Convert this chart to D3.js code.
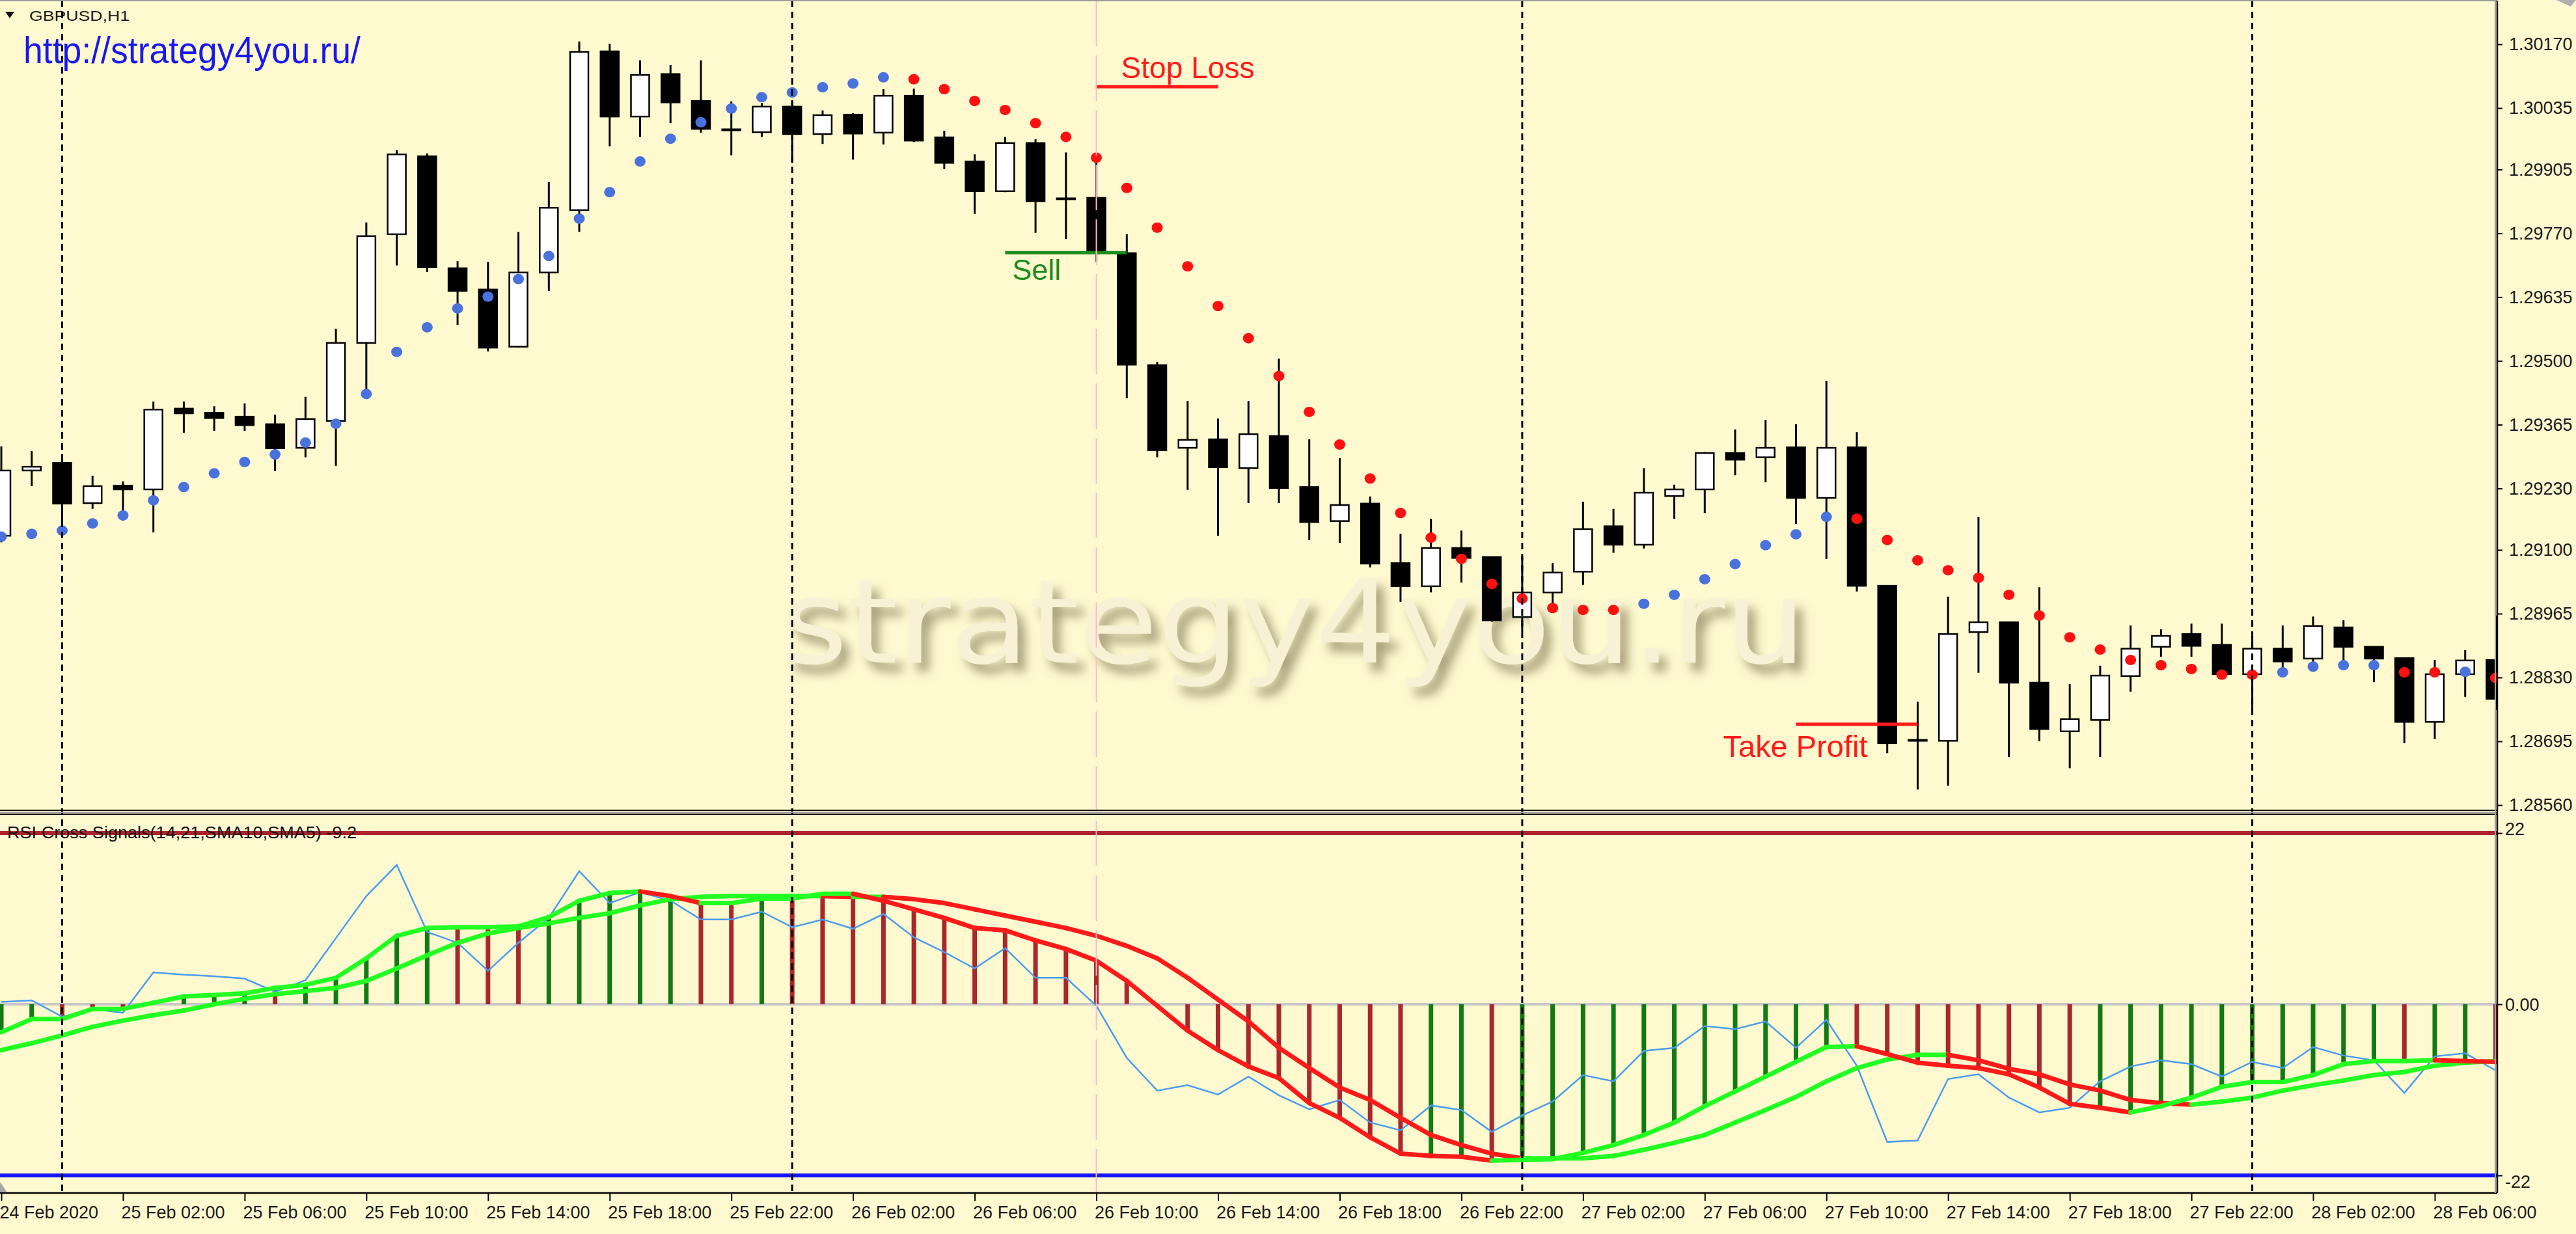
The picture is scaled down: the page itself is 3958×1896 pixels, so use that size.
<!DOCTYPE html>
<html>
<head>
<meta charset="utf-8">
<script src="https://cdn.jsdelivr.net/npm/d3@7"></script>
<style>
  body { margin: 0; background: #fff9d0; }
  svg { display: block; }
</style>
</head>
<body>
<div id="chart"></div>
<script>
// GBPUSD H1 with parabolic SAR and "RSI Cross Signals" sub-window
//= ================================

// Bar labels on the time axis (every 4th hourly bar)
var timeLabels = ["24 Feb 2020", "25 Feb 02:00", "25 Feb 06:00", "25 Feb 10:00", "25 Feb 14:00",
  "25 Feb 18:00", "25 Feb 22:00", "26 Feb 02:00", "26 Feb 06:00", "26 Feb 10:00", "26 Feb 14:00",
  "26 Feb 18:00", "26 Feb 22:00", "27 Feb 02:00", "27 Feb 06:00", "27 Feb 10:00", "27 Feb 14:00",
  "27 Feb 18:00", "27 Feb 22:00", "28 Feb 02:00", "28 Feb 06:00"];

var priceTicks = [1.30170, 1.30035, 1.29905, 1.29770, 1.29635, 1.29500, 1.29365,
  1.29230, 1.29100, 1.28965, 1.28830, 1.28695, 1.28560];
var indTicks = [22, 0, -22];
var indTickLabels = ["22", "0.00", "-22"];

// OHLC, hourly bars from 24 Feb 22:00
var open = [1.29130, 1.29268, 1.29284, 1.29199, 1.29236, 1.29228, 1.29399, 1.29390, 1.29382, 1.29366,
  1.29316, 1.29373, 1.29538, 1.29768, 1.29933, 1.29696, 1.29651, 1.29530, 1.29687, 1.29819,
  1.30155, 1.30017, 1.30107, 1.30050, 1.29990, 1.29984, 1.30038, 1.29980, 1.30021, 1.29983,
  1.30061, 1.29973, 1.29922, 1.29859, 1.29961, 1.29844, 1.29845, 1.29728, 1.29491, 1.29316,
  1.29334, 1.29273, 1.29341, 1.29233, 1.29161, 1.29198, 1.29072, 1.29023, 1.29104, 1.29085,
  1.28958, 1.29010, 1.29054, 1.29150, 1.29111, 1.29214, 1.29228, 1.29305, 1.29296, 1.29317,
  1.29210, 1.29317, 1.29024, 1.28698, 1.28696, 1.28926, 1.28947, 1.28819, 1.28716, 1.28740,
  1.28833, 1.28895, 1.28922, 1.28899, 1.28837, 1.28891, 1.28870, 1.28936, 1.28895, 1.28871,
  1.28736, 1.28837, 1.28867];
var high = [1.29319, 1.29309, 1.29302, 1.29257, 1.29245, 1.29414, 1.29414, 1.29404, 1.29410, 1.29386,
  1.29424, 1.29568, 1.29793, 1.29946, 1.29939, 1.29711, 1.29709, 1.29773, 1.29878, 1.30176,
  1.30171, 1.30136, 1.30126, 1.30136, 1.30049, 1.30046, 1.30049, 1.30030, 1.30024, 1.30075,
  1.30076, 1.29987, 1.29937, 1.29974, 1.29969, 1.29941, 1.29919, 1.29768, 1.29498, 1.29415,
  1.29378, 1.29415, 1.29505, 1.29334, 1.29294, 1.29213, 1.29134, 1.29166, 1.29141, 1.29085,
  1.29086, 1.29072, 1.29202, 1.29187, 1.29273, 1.29238, 1.29307, 1.29355, 1.29375, 1.29366,
  1.29458, 1.29349, 1.29024, 1.28779, 1.29001, 1.29170, 1.28948, 1.29021, 1.28816, 1.28855,
  1.28940, 1.28932, 1.28944, 1.28944, 1.28918, 1.28940, 1.28959, 1.28951, 1.28895, 1.28871,
  1.28867, 1.28888, 1.28961];
var low = [1.29116, 1.29235, 1.29134, 1.29187, 1.29162, 1.29137, 1.29348, 1.29352, 1.29352, 1.29267,
  1.29296, 1.29278, 1.29422, 1.29702, 1.29688, 1.29576, 1.29520, 1.29528, 1.29648, 1.29773,
  1.29954, 1.29974, 1.30003, 1.29983, 1.29935, 1.29974, 1.29919, 1.29959, 1.29926, 1.29958,
  1.29963, 1.29906, 1.29811, 1.29857, 1.29771, 1.29758, 1.29710, 1.29421, 1.29296, 1.29227,
  1.29130, 1.29199, 1.29199, 1.29121, 1.29115, 1.29063, 1.28990, 1.29010, 1.29031, 1.28948,
  1.28928, 1.28981, 1.29026, 1.29094, 1.29103, 1.29166, 1.29178, 1.29258, 1.29243, 1.29155,
  1.29081, 1.29012, 1.28670, 1.28593, 1.28601, 1.28840, 1.28662, 1.28695, 1.28638, 1.28662,
  1.28800, 1.28874, 1.28874, 1.28836, 1.28761, 1.28848, 1.28848, 1.28848, 1.28820, 1.28691,
  1.28700, 1.28789, 1.28761];
var close = [1.29268, 1.29276, 1.29198, 1.29235, 1.29228, 1.29397, 1.29389, 1.29379, 1.29364, 1.29315,
  1.29377, 1.29538, 1.29764, 1.29937, 1.29698, 1.29648, 1.29528, 1.29687, 1.29824, 1.30154,
  1.30017, 1.30105, 1.30047, 1.29991, 1.29988, 1.30038, 1.29980, 1.30020, 1.29981, 1.30061,
  1.29966, 1.29919, 1.29859, 1.29961, 1.29838, 1.29842, 1.29732, 1.29492, 1.29311, 1.29333,
  1.29275, 1.29345, 1.29231, 1.29159, 1.29195, 1.29071, 1.29023, 1.29104, 1.29083, 1.28951,
  1.29010, 1.29052, 1.29144, 1.29111, 1.29221, 1.29228, 1.29305, 1.29291, 1.29316, 1.29210,
  1.29316, 1.29024, 1.28691, 1.28696, 1.28922, 1.28947, 1.28819, 1.28721, 1.28742, 1.28834,
  1.28891, 1.28918, 1.28897, 1.28837, 1.28891, 1.28864, 1.28939, 1.28895, 1.28870, 1.28736,
  1.28837, 1.28866, 1.28785];

// Parabolic SAR: value and side (1 = below price / up, -1 = above price / down)
var sar = [1.29128, 1.29134, 1.29141, 1.29156, 1.29173, 1.29205, 1.29233, 1.29262, 1.29286, 1.29302,
  1.29327, 1.29367, 1.29430, 1.29519, 1.29571, 1.29611, 1.29636, 1.29673, 1.29722, 1.29801,
  1.29857, 1.29922, 1.29970, 1.30005, 1.30034, 1.30058, 1.30068, 1.30079, 1.30087, 1.30100,
  1.30096, 1.30075, 1.30050, 1.30031, 1.30003, 1.29974, 1.29930, 1.29866, 1.29782, 1.29700,
  1.29616, 1.29548, 1.29468, 1.29392, 1.29323, 1.29251, 1.29178, 1.29126, 1.29081, 1.29028,
  1.28997, 1.28977, 1.28973, 1.28973, 1.28986, 1.29005, 1.29038, 1.29070, 1.29110, 1.29133,
  1.29170, 1.29166, 1.29121, 1.29078, 1.29057, 1.29041, 1.29005, 1.28961, 1.28915, 1.28889,
  1.28867, 1.28856, 1.28848, 1.28836, 1.28836, 1.28841, 1.28853, 1.28856, 1.28856, 1.28841,
  1.28841, 1.28842, 1.28829];
var sarDir = [1, 1, 1, 1, 1, 1, 1, 1, 1, 1, 1, 1, 1, 1, 1, 1, 1, 1, 1, 1, 1, 1, 1, 1, 1, 1, 1, 1, 1, 1,
  -1, -1, -1, -1, -1, -1, -1, -1, -1, -1, -1, -1, -1, -1, -1, -1, -1, -1, -1, -1, -1, -1, -1, -1,
  1, 1, 1, 1, 1, 1, 1,
  -1, -1, -1, -1, -1, -1, -1, -1, -1, -1, -1, -1, -1, -1,
  1, 1, 1, 1, -1, -1, 1, -1];

// RSI Cross Signals sub-window
var rsiLine = [0.3, 0.5, -1.6, -0.6, -1.1, 4.1, 3.8, 3.6, 3.3, 1.6,
  3.1, 8.5, 13.9, 17.9, 9.3, 7.9, 4.3, 7.9, 11.1, 17.1,
  13.0, 14.4, 13.3, 10.9, 10.9, 11.9, 9.9, 10.9, 9.7, 11.6,
  8.6, 6.7, 4.6, 7.2, 3.4, 3.4, -0.2, -6.9, -11.1, -10.4,
  -11.6, -9.3, -11.7, -13.5, -12.3, -15.2, -16.2, -13.0, -13.6, -16.4,
  -14.3, -12.5, -9.1, -9.9, -6.0, -5.6, -2.8, -3.2, -2.2, -5.6,
  -2.0, -7.9, -17.7, -17.5, -9.6, -9.0, -12.0, -13.9, -13.3, -9.9,
  -8.0, -7.2, -7.7, -9.3, -7.4, -8.2, -5.5, -6.6, -7.2, -11.4,
  -6.7, -6.3, -8.5];
var fastMA = [-3.6, -1.9, -1.9, -0.6, -0.6, 0.2, 1.0, 1.2, 1.4, 2.1,
  2.5, 3.4, 5.9, 8.8, 9.8, 9.9, 9.9, 10.0, 11.2, 13.3,
  14.3, 14.5, 13.9, 13.0, 13.0, 13.6, 13.6, 14.2, 14.2, 13.3,
  12.2, 11.1, 9.8, 9.5, 8.2, 7.1, 5.6, 3.0, -0.2, -3.4,
  -5.9, -8.0, -9.5, -12.7, -14.6, -17.1, -19.2, -19.5, -19.6, -20.1,
  -20.0, -19.9, -19.1, -18.1, -16.8, -15.2, -13.1, -11.2, -9.3, -7.4,
  -5.5, -5.4, -6.4, -7.5, -7.9, -8.2, -9.0, -10.7, -12.8, -13.3,
  -13.9, -13.1, -12.0, -10.6, -10.0, -10.0, -9.1, -7.7, -7.3, -7.3,
  -7.2, -7.3, -7.4];
var slowMA = [-5.9, -5.0, -4.0, -2.9, -2.1, -1.4, -0.8, 0.0, 0.7, 1.3,
  1.7, 2.1, 3.0, 4.6, 6.3, 7.9, 9.1, 9.8, 10.4, 11.1,
  11.7, 12.7, 13.5, 13.8, 13.9, 13.9, 13.9, 13.9, 13.8, 13.8,
  13.5, 13.0, 12.2, 11.4, 10.6, 9.8, 8.8, 7.5, 5.9, 3.4,
  0.6, -2.2, -5.6, -8.2, -10.7, -12.3, -14.6, -16.8, -18.1, -19.2,
  -19.8, -19.8, -19.8, -19.5, -18.7, -17.8, -16.8, -15.2, -13.6, -11.9,
  -9.9, -8.2, -7.1, -6.5, -6.5, -7.2, -8.3, -9.0, -10.3, -11.1,
  -12.3, -12.7, -12.9, -12.5, -12.0, -11.1, -10.4, -9.8, -9.1, -8.7,
  -7.9, -7.5, -7.3];
// histogram signal: 1 = green, -1 = brown
var histDir = [1, 1, -1, -1, -1, 1, 1, 1, 1, -1,
  1, 1, 1, 1, 1, -1, -1, -1, 1, 1,
  1, 1, 1, -1, -1, 1, -1, -1, -1, -1,
  -1, -1, -1, -1, -1, -1, -1, -1, -1, -1,
  -1, -1, -1, -1, -1, -1, -1, 1, 1, -1,
  1, 1, 1, 1, 1, 1, 1, 1, 1, 1,
  1, -1, -1, -1, -1, -1, -1, -1, -1, 1,
  1, 1, 1, 1, 1, 1, 1, 1, 1, -1,
  1, 1, -1];
var levelUp = 22, levelDown = -22;

// Trade annotations (price level drawn between two bars)
var tradeNames = ["Stop Loss", "Sell", "Take Profit"];
var tradePrices = [1.30080, 1.29729, 1.28731];
var tradeFrom = [36, 33, 59];
var tradeTo = [40, 37, 63];
var signalTime = "26 Feb 10:00";

// Step 1: chart geometry
//= ================================
var svgWidth = 3958;
var svgHeight = 1896;
var plotRight = 3837;
var mainTop = 1, mainBottom = 1245;
var indTop = 1251, indBottom = 1833;
var bg = "#fff9d0";
var fontFam = "'Liberation Sans', Arial, sans-serif";

var barTimes = d3.range(open.length).map(i => d3.utcHour.offset(new Date(Date.UTC(2020, 1, 24, 22)), i));
var fmtBar = d3.utcFormat("%d %b %H:%M");

// Step 2: scales
//= ================================
var x = d3.scaleLinear().domain([0, 80]).range([2, 3741]);
var yPrice = d3.scaleLinear().domain([1.28560, 1.30170]).range([1237, 68]);
var yInd = d3.scaleLinear().domain([-22, 22]).range([1806, 1280]);

var svg = d3.select("#chart")
  .append("svg")
  .attr("width", svgWidth)
  .attr("height", svgHeight)
  .style("font-family", fontFam);

svg.append("rect").attr("width", svgWidth).attr("height", svgHeight).attr("fill", bg);

var defs = svg.append("defs");
defs.append("clipPath").attr("id", "clipMain").append("rect")
  .attr("x", 0).attr("y", mainTop).attr("width", plotRight).attr("height", mainBottom - mainTop);
defs.append("clipPath").attr("id", "clipInd").append("rect")
  .attr("x", 0).attr("y", indTop).attr("width", plotRight).attr("height", indBottom - indTop);
var wm = defs.append("filter").attr("id", "wmShadow")
  .attr("x", "-5%").attr("y", "-30%").attr("width", "115%").attr("height", "180%");
wm.append("feDropShadow").attr("dx", 12).attr("dy", 14).attr("stdDeviation", 8)
  .attr("flood-color", "#6f6640").attr("flood-opacity", 0.6);

var mainG = svg.append("g").attr("clip-path", "url(#clipMain)");
var indG = svg.append("g").attr("clip-path", "url(#clipInd)");

// Step 3: watermark and separators
//= ================================
mainG.append("text")
  .attr("x", 1200).attr("y", 1018)
  .attr("font-family", "'DejaVu Sans', Verdana, sans-serif")
  .attr("font-size", 178)
  .attr("textLength", 1575).attr("lengthAdjust", "spacingAndGlyphs")
  .attr("fill", "#f7f1d6")
  .attr("filter", "url(#wmShadow)")
  .text("strategy4you.ru");

var dayIdx = barTimes.map((t, i) => t.getUTCHours() === 0 ? i : -1).filter(i => i >= 0);
var sigIdx = barTimes.findIndex(t => fmtBar(t) === signalTime);

svg.append("line")
  .attr("x1", x(sigIdx)).attr("x2", x(sigIdx))
  .attr("y1", mainTop).attr("y2", indBottom)
  .attr("stroke", "#ffb8c6").attr("stroke-width", 2)
  .attr("stroke-dasharray", "70,14");

var sepG = svg.append("g");
sepG.selectAll("line").data(dayIdx).enter().append("line")
  .attr("x1", d => x(d)).attr("x2", d => x(d))
  .attr("y1", mainTop).attr("y2", indBottom)
  .attr("stroke", "#000").attr("stroke-width", 3)
  .attr("stroke-dasharray", "10,7");

// Step 4: candles + SAR
//= ================================
var bars = d3.range(open.length);
var bodyW = 28;

mainG.selectAll(".wick").data(bars).enter().append("line")
  .attr("class", "wick")
  .attr("x1", i => x(i)).attr("x2", i => x(i))
  .attr("y1", i => yPrice(high[i])).attr("y2", i => yPrice(low[i]))
  .attr("stroke", "#000").attr("stroke-width", 3);

mainG.selectAll(".body").data(bars).enter().append("rect")
  .attr("class", "body")
  .attr("x", i => x(i) - bodyW / 2)
  .attr("y", i => yPrice(Math.max(open[i], close[i])))
  .attr("width", bodyW)
  .attr("height", i => Math.max(1, Math.abs(yPrice(open[i]) - yPrice(close[i]))))
  .attr("fill", i => close[i] >= open[i] ? "#fff" : "#000")
  .attr("stroke", "#000").attr("stroke-width", 2.5);

mainG.selectAll(".sar").data(bars).enter().append("ellipse")
  .attr("class", "sar")
  .attr("cx", i => x(i)).attr("cy", i => yPrice(sar[i]))
  .attr("rx", 8.5).attr("ry", 8)
  .attr("fill", i => sarDir[i] > 0 ? "#4a72dc" : "#ff1010");

// Step 5: trade annotations
//= ================================
tradeNames.forEach(function(name, k) {
  var col = name === "Sell" ? "#1c8c1c" : "#ff1a1a";
  var yv = yPrice(tradePrices[k]);
  mainG.append("line")
    .attr("x1", x(tradeFrom[k])).attr("x2", x(tradeTo[k]))
    .attr("y1", yv).attr("y2", yv)
    .attr("stroke", col).attr("stroke-width", 5);
  var t = mainG.append("text").attr("fill", col).attr("font-size", 47).text(name);
  if (name === "Stop Loss") {
    t.attr("x", x(tradeFrom[k]) + 38).attr("y", yv - 13).attr("textLength", 205);
  } else if (name === "Sell") {
    t.attr("x", x(tradeFrom[k]) + 11).attr("y", yv + 42).attr("textLength", 75).attr("font-size", 45);
  } else {
    t.attr("x", x(tradeFrom[k]) - 112).attr("y", yv + 50).attr("textLength", 222);
  }
  t.attr("lengthAdjust", "spacingAndGlyphs");
});

// Step 6: indicator window
//= ================================
indG.append("line").attr("x1", 0).attr("x2", plotRight)
  .attr("y1", yInd(0)).attr("y2", yInd(0))
  .attr("stroke", "#c8c8c8").attr("stroke-width", 4);
indG.append("line").attr("x1", 0).attr("x2", plotRight)
  .attr("y1", yInd(levelUp)).attr("y2", yInd(levelUp))
  .attr("stroke", "#b0222e").attr("stroke-width", 6);
indG.append("line").attr("x1", 0).attr("x2", plotRight)
  .attr("y1", yInd(levelDown)).attr("y2", yInd(levelDown))
  .attr("stroke", "#1414ff").attr("stroke-width", 6);

indG.selectAll(".hist").data(bars).enter().append("line")
  .attr("class", "hist")
  .attr("x1", i => x(i)).attr("x2", i => x(i))
  .attr("y1", yInd(0)).attr("y2", i => yInd(fastMA[i]))
  .attr("stroke", i => histDir[i] > 0 ? "#137a13" : "#a8282c")
  .attr("stroke-width", 7);

var rsiPath = d3.line().x((d, i) => x(i)).y(d => yInd(d));
indG.append("path").datum(rsiLine)
  .attr("d", rsiPath)
  .attr("fill", "none").attr("stroke", "#4a9cf0").attr("stroke-width", 2.5);

function drawMA(vals) {
  var segs = d3.pairs(vals.map((v, i) => [i, v]));
  indG.append("g").selectAll("line").data(segs).enter().append("line")
    .attr("x1", d => x(d[0][0])).attr("y1", d => yInd(d[0][1]))
    .attr("x2", d => x(d[1][0])).attr("y2", d => yInd(d[1][1]))
    .attr("stroke", d => d[1][1] >= d[0][1] ? "#22ff22" : "#ff1a1a")
    .attr("stroke-width", 7).attr("stroke-linecap", "round");
}
drawMA(slowMA);
drawMA(fastMA);

svg.append("text")
  .attr("x", 11).attr("y", 1288)
  .attr("font-size", 26).attr("fill", "#111")
  .attr("textLength", 537).attr("lengthAdjust", "spacingAndGlyphs")
  .text("RSI Cross Signals(14,21,SMA10,SMA5) -9.2");

// Step 7: frames
//= ================================
svg.append("line").attr("x1", 0).attr("x2", plotRight).attr("y1", 1).attr("y2", 1)
  .attr("stroke", "#9a9a9a").attr("stroke-width", 2);
svg.append("line").attr("x1", 0).attr("x2", plotRight).attr("y1", mainBottom).attr("y2", mainBottom)
  .attr("stroke", "#000").attr("stroke-width", 2);
svg.append("line").attr("x1", 0).attr("x2", plotRight).attr("y1", 1248).attr("y2", 1248)
  .attr("stroke", "#a0a0a0").attr("stroke-width", 2);
svg.append("line").attr("x1", 0).attr("x2", plotRight).attr("y1", indTop).attr("y2", indTop)
  .attr("stroke", "#000").attr("stroke-width", 2);
svg.append("line").attr("x1", 0).attr("x2", plotRight).attr("y1", indBottom).attr("y2", indBottom)
  .attr("stroke", "#000").attr("stroke-width", 2.5);
svg.append("line").attr("x1", plotRight - 3).attr("x2", plotRight - 3).attr("y1", 1).attr("y2", indBottom)
  .attr("stroke", "#a0a0a0").attr("stroke-width", 2);
svg.append("line").attr("x1", plotRight).attr("x2", plotRight).attr("y1", 1).attr("y2", indBottom)
  .attr("stroke", "#000").attr("stroke-width", 2.5);
svg.append("path").attr("d", "M0,1816L0,1832L11,1832Z").attr("fill", "#a8a8a8");
svg.append("path").attr("d", "M3928,0L3958,0L3950,10Z").attr("fill", "#b0b0b0");

// chart symbol label
svg.append("path").attr("d", "M8,18L22,18L15,28Z").attr("fill", "#111");
svg.append("text").attr("x", 45).attr("y", 32)
  .attr("font-size", 22).attr("fill", "#1a1a1a")
  .attr("textLength", 154).attr("lengthAdjust", "spacingAndGlyphs")
  .text("GBPUSD,H1");
svg.append("text").attr("x", 36).attr("y", 97)
  .attr("font-size", 57).attr("fill", "#1818f0")
  .attr("textLength", 518).attr("lengthAdjust", "spacingAndGlyphs")
  .text("http://strategy4you.ru/");

// Step 8: axes
//= ================================
function styleAxis(g) {
  g.attr("font-family", fontFam).attr("font-size", 27);
  g.select(".domain").remove();
  g.selectAll(".tick line").attr("stroke", "#000").attr("stroke-width", 2);
  g.selectAll("text").attr("fill", "#1a1a1a");
}

var priceAxis = d3.axisRight(yPrice)
  .tickValues(priceTicks).tickSize(8).tickPadding(10)
  .tickFormat(d3.format(".5f"));
svg.append("g").attr("transform", `translate(${plotRight}, 0)`)
  .call(priceAxis).call(styleAxis);

var indAxis = d3.axisRight(yInd)
  .tickValues(indTicks).tickSize(8).tickPadding(4)
  .tickFormat((d, k) => indTickLabels[k]);
var indAxisG = svg.append("g").attr("transform", `translate(${plotRight}, 0)`)
  .call(indAxis).call(styleAxis);
indAxisG.selectAll(".tick text").attr("dy", d => d > 0 ? "0.1em" : (d < 0 ? "0.7em" : "0.35em"));

var labelIdx = d3.range(0, 81, 4);
var timeAxis = d3.axisBottom(x)
  .tickValues(labelIdx).tickSize(12)
  .tickFormat((d, k) => timeLabels[k]);
svg.append("g").attr("transform", `translate(0, ${indBottom})`)
  .call(timeAxis).call(styleAxis)
  .selectAll(".tick text")
  .attr("text-anchor", "start")
  .attr("x", -3).attr("y", 39).attr("dy", 0);
</script>
</body>
</html>
